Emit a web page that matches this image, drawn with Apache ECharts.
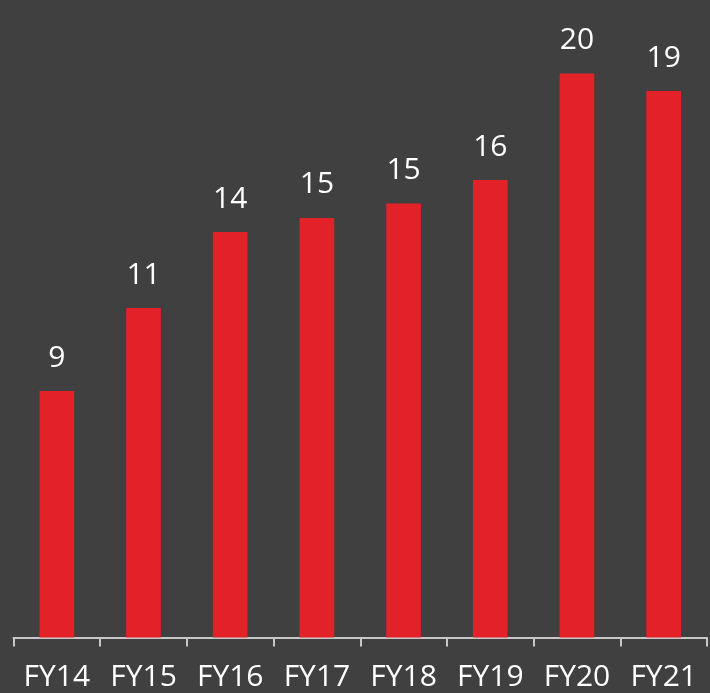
<!DOCTYPE html>
<html>
<head>
<meta charset="utf-8">
<script src="https://cdn.jsdelivr.net/npm/echarts@6/dist/echarts.min.js"></script>
<style>
html,body{margin:0;padding:0;background:#404040;}
#chart{width:710px;height:693px;}
</style>
</head>
<body>
<div id="chart"></div>
<script>
const categories = ['FY14','FY15','FY16','FY17','FY18','FY19','FY20','FY21'];
const barValues = [8.74, 11.68, 14.38, 14.88, 15.39, 16.22, 20.0, 19.38];
const barLabels = ['9','11','14','15','15','16','20','19'];

const chart = echarts.init(document.getElementById('chart'), null, {renderer:'canvas'});
const FONT = '"Open Sans", "Lato", sans-serif';
chart.setOption({
  backgroundColor: '#404040',
  animation: false,
  grid: {left: 13.5, right: 3, top: 73.5, bottom: 55.5, containLabel: false},
  xAxis: {
    type: 'category',
    data: categories,
    boundaryGap: true,
    axisLine: {show: true, lineStyle: {color: '#c8c8c8', width: 2}},
    axisTick: {show: true, length: 9, lineStyle: {color: '#c8c8c8', width: 2}},
    axisLabel: {color: '#ffffff', fontSize: 30, fontFamily: FONT, margin: 25}
  },
  yAxis: {
    type: 'value', min: 0, max: 20, show: false,
    splitLine: {show: false}
  },
  series: [{
    type: 'bar',
    data: barValues,
    barWidth: '40%',
    itemStyle: {color: '#e32129'},
    label: {
      show: true,
      position: 'top',
      distance: 18,
      color: '#ffffff',
      fontSize: 30,
      fontFamily: FONT,
      formatter: p => barLabels[p.dataIndex]
    }
  }]
});
</script>
</body>
</html>
